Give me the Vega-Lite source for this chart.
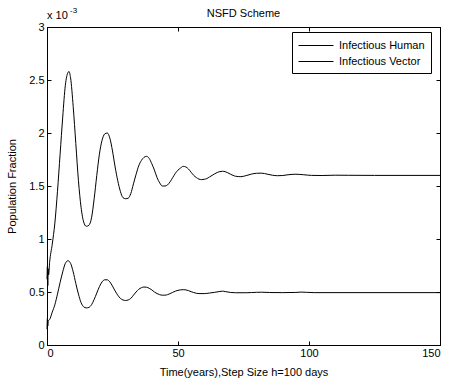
{
  "$schema": "https://vega.github.io/schema/vega-lite/v6.json",
  "autosize": "none",
  "width": 393,
  "height": 318,
  "padding": {"left": 47, "top": 27, "right": 10, "bottom": 38},
  "background": "white",
  "title": {"text": "NSFD Scheme", "fontSize": 11, "fontWeight": "normal", "font": "Liberation Sans", "color": "#000", "offset": -12, "frame": "group"},
  "config": {
    "font": "Liberation Sans",
    "view": {"stroke": "#000", "strokeWidth": 1},
    "axis": {
      "domainColor": "#000", "tickColor": "#000", "labelColor": "#000", "titleColor": "#000",
      "labelFontSize": 11, "titleFontSize": 11, "titleFontWeight": "normal",
      "grid": false, "tickSize": -4, "labelFont": "Liberation Sans", "titleFont": "Liberation Sans"
    },
    "legend": {"labelFont": "Liberation Sans"}
  },
  "datasets": {
    "curves": [
      {"t": 0, "series": "Infectious Vector", "v": 0.62},
      {"t": 0.15, "series": "Infectious Vector", "v": 0.74},
      {"t": 0.3, "series": "Infectious Vector", "v": 0.56},
      {"t": 0.45, "series": "Infectious Vector", "v": 0.72},
      {"t": 0.6, "series": "Infectious Vector", "v": 0.66},
      {"t": 1, "series": "Infectious Vector", "v": 0.78},
      {"t": 2, "series": "Infectious Vector", "v": 0.95},
      {"t": 3, "series": "Infectious Vector", "v": 1.15},
      {"t": 4, "series": "Infectious Vector", "v": 1.45},
      {"t": 5, "series": "Infectious Vector", "v": 1.8},
      {"t": 6, "series": "Infectious Vector", "v": 2.15},
      {"t": 7, "series": "Infectious Vector", "v": 2.45},
      {"t": 8, "series": "Infectious Vector", "v": 2.57},
      {"t": 8.4, "series": "Infectious Vector", "v": 2.58},
      {"t": 9, "series": "Infectious Vector", "v": 2.52},
      {"t": 10, "series": "Infectious Vector", "v": 2.25},
      {"t": 11, "series": "Infectious Vector", "v": 1.9},
      {"t": 12, "series": "Infectious Vector", "v": 1.55},
      {"t": 13, "series": "Infectious Vector", "v": 1.3},
      {"t": 14, "series": "Infectious Vector", "v": 1.16},
      {"t": 15, "series": "Infectious Vector", "v": 1.12},
      {"t": 16, "series": "Infectious Vector", "v": 1.13},
      {"t": 17, "series": "Infectious Vector", "v": 1.2},
      {"t": 18, "series": "Infectious Vector", "v": 1.38},
      {"t": 19, "series": "Infectious Vector", "v": 1.6},
      {"t": 20, "series": "Infectious Vector", "v": 1.8},
      {"t": 21, "series": "Infectious Vector", "v": 1.93},
      {"t": 22, "series": "Infectious Vector", "v": 1.99},
      {"t": 23, "series": "Infectious Vector", "v": 2.0},
      {"t": 24, "series": "Infectious Vector", "v": 1.95},
      {"t": 25, "series": "Infectious Vector", "v": 1.83},
      {"t": 26, "series": "Infectious Vector", "v": 1.68},
      {"t": 27, "series": "Infectious Vector", "v": 1.55},
      {"t": 28, "series": "Infectious Vector", "v": 1.45},
      {"t": 29, "series": "Infectious Vector", "v": 1.39},
      {"t": 30, "series": "Infectious Vector", "v": 1.38},
      {"t": 31, "series": "Infectious Vector", "v": 1.385},
      {"t": 32, "series": "Infectious Vector", "v": 1.43},
      {"t": 33, "series": "Infectious Vector", "v": 1.52},
      {"t": 34, "series": "Infectious Vector", "v": 1.61},
      {"t": 35, "series": "Infectious Vector", "v": 1.69},
      {"t": 36, "series": "Infectious Vector", "v": 1.74},
      {"t": 37, "series": "Infectious Vector", "v": 1.77},
      {"t": 38, "series": "Infectious Vector", "v": 1.78},
      {"t": 39, "series": "Infectious Vector", "v": 1.76},
      {"t": 40, "series": "Infectious Vector", "v": 1.71},
      {"t": 41, "series": "Infectious Vector", "v": 1.65},
      {"t": 42, "series": "Infectious Vector", "v": 1.58},
      {"t": 43, "series": "Infectious Vector", "v": 1.53},
      {"t": 44, "series": "Infectious Vector", "v": 1.5},
      {"t": 45, "series": "Infectious Vector", "v": 1.5},
      {"t": 46, "series": "Infectious Vector", "v": 1.51},
      {"t": 47, "series": "Infectious Vector", "v": 1.54},
      {"t": 48, "series": "Infectious Vector", "v": 1.58},
      {"t": 49, "series": "Infectious Vector", "v": 1.62},
      {"t": 50, "series": "Infectious Vector", "v": 1.65},
      {"t": 51, "series": "Infectious Vector", "v": 1.67},
      {"t": 52, "series": "Infectious Vector", "v": 1.685},
      {"t": 53, "series": "Infectious Vector", "v": 1.68},
      {"t": 54, "series": "Infectious Vector", "v": 1.66},
      {"t": 55, "series": "Infectious Vector", "v": 1.63},
      {"t": 56, "series": "Infectious Vector", "v": 1.6},
      {"t": 57, "series": "Infectious Vector", "v": 1.58},
      {"t": 58, "series": "Infectious Vector", "v": 1.565},
      {"t": 59, "series": "Infectious Vector", "v": 1.56},
      {"t": 60, "series": "Infectious Vector", "v": 1.563},
      {"t": 61, "series": "Infectious Vector", "v": 1.57},
      {"t": 62, "series": "Infectious Vector", "v": 1.585},
      {"t": 63, "series": "Infectious Vector", "v": 1.6},
      {"t": 64, "series": "Infectious Vector", "v": 1.615},
      {"t": 65, "series": "Infectious Vector", "v": 1.628},
      {"t": 66, "series": "Infectious Vector", "v": 1.636},
      {"t": 67, "series": "Infectious Vector", "v": 1.639},
      {"t": 68, "series": "Infectious Vector", "v": 1.635},
      {"t": 69, "series": "Infectious Vector", "v": 1.625},
      {"t": 70, "series": "Infectious Vector", "v": 1.612},
      {"t": 71, "series": "Infectious Vector", "v": 1.6},
      {"t": 72, "series": "Infectious Vector", "v": 1.592},
      {"t": 74, "series": "Infectious Vector", "v": 1.588},
      {"t": 76, "series": "Infectious Vector", "v": 1.598},
      {"t": 78, "series": "Infectious Vector", "v": 1.612},
      {"t": 80, "series": "Infectious Vector", "v": 1.62},
      {"t": 82, "series": "Infectious Vector", "v": 1.621},
      {"t": 84, "series": "Infectious Vector", "v": 1.612},
      {"t": 86, "series": "Infectious Vector", "v": 1.602},
      {"t": 88, "series": "Infectious Vector", "v": 1.597},
      {"t": 90, "series": "Infectious Vector", "v": 1.599},
      {"t": 92, "series": "Infectious Vector", "v": 1.606},
      {"t": 95, "series": "Infectious Vector", "v": 1.611},
      {"t": 98, "series": "Infectious Vector", "v": 1.606},
      {"t": 101, "series": "Infectious Vector", "v": 1.6},
      {"t": 105, "series": "Infectious Vector", "v": 1.599},
      {"t": 110, "series": "Infectious Vector", "v": 1.602},
      {"t": 115, "series": "Infectious Vector", "v": 1.601},
      {"t": 125, "series": "Infectious Vector", "v": 1.6},
      {"t": 150, "series": "Infectious Vector", "v": 1.6},

      {"t": 0, "series": "Infectious Human", "v": 0.15},
      {"t": 0.15, "series": "Infectious Human", "v": 0.25},
      {"t": 0.3, "series": "Infectious Human", "v": 0.18},
      {"t": 0.5, "series": "Infectious Human", "v": 0.23},
      {"t": 1, "series": "Infectious Human", "v": 0.24},
      {"t": 2, "series": "Infectious Human", "v": 0.31},
      {"t": 3, "series": "Infectious Human", "v": 0.38},
      {"t": 4, "series": "Infectious Human", "v": 0.48},
      {"t": 5, "series": "Infectious Human", "v": 0.59},
      {"t": 6, "series": "Infectious Human", "v": 0.69},
      {"t": 7, "series": "Infectious Human", "v": 0.77},
      {"t": 8, "series": "Infectious Human", "v": 0.795},
      {"t": 9, "series": "Infectious Human", "v": 0.77},
      {"t": 10, "series": "Infectious Human", "v": 0.69},
      {"t": 11, "series": "Infectious Human", "v": 0.58},
      {"t": 12, "series": "Infectious Human", "v": 0.48},
      {"t": 13, "series": "Infectious Human", "v": 0.4},
      {"t": 14, "series": "Infectious Human", "v": 0.36},
      {"t": 15, "series": "Infectious Human", "v": 0.35},
      {"t": 16, "series": "Infectious Human", "v": 0.355},
      {"t": 17, "series": "Infectious Human", "v": 0.38},
      {"t": 18, "series": "Infectious Human", "v": 0.43},
      {"t": 19, "series": "Infectious Human", "v": 0.49},
      {"t": 20, "series": "Infectious Human", "v": 0.55},
      {"t": 21, "series": "Infectious Human", "v": 0.595},
      {"t": 22, "series": "Infectious Human", "v": 0.615},
      {"t": 23, "series": "Infectious Human", "v": 0.615},
      {"t": 24, "series": "Infectious Human", "v": 0.595},
      {"t": 25, "series": "Infectious Human", "v": 0.555},
      {"t": 26, "series": "Infectious Human", "v": 0.51},
      {"t": 27, "series": "Infectious Human", "v": 0.47},
      {"t": 28, "series": "Infectious Human", "v": 0.44},
      {"t": 29, "series": "Infectious Human", "v": 0.425},
      {"t": 30, "series": "Infectious Human", "v": 0.42},
      {"t": 31, "series": "Infectious Human", "v": 0.425},
      {"t": 32, "series": "Infectious Human", "v": 0.44},
      {"t": 33, "series": "Infectious Human", "v": 0.47},
      {"t": 34, "series": "Infectious Human", "v": 0.5},
      {"t": 35, "series": "Infectious Human", "v": 0.525},
      {"t": 36, "series": "Infectious Human", "v": 0.54},
      {"t": 37, "series": "Infectious Human", "v": 0.547},
      {"t": 38, "series": "Infectious Human", "v": 0.545},
      {"t": 39, "series": "Infectious Human", "v": 0.535},
      {"t": 40, "series": "Infectious Human", "v": 0.52},
      {"t": 41, "series": "Infectious Human", "v": 0.5},
      {"t": 42, "series": "Infectious Human", "v": 0.485},
      {"t": 43, "series": "Infectious Human", "v": 0.475},
      {"t": 44, "series": "Infectious Human", "v": 0.47},
      {"t": 45, "series": "Infectious Human", "v": 0.47},
      {"t": 46, "series": "Infectious Human", "v": 0.475},
      {"t": 47, "series": "Infectious Human", "v": 0.485},
      {"t": 48, "series": "Infectious Human", "v": 0.497},
      {"t": 49, "series": "Infectious Human", "v": 0.508},
      {"t": 50, "series": "Infectious Human", "v": 0.516},
      {"t": 51, "series": "Infectious Human", "v": 0.52},
      {"t": 52, "series": "Infectious Human", "v": 0.522},
      {"t": 53, "series": "Infectious Human", "v": 0.52},
      {"t": 54, "series": "Infectious Human", "v": 0.513},
      {"t": 55, "series": "Infectious Human", "v": 0.503},
      {"t": 56, "series": "Infectious Human", "v": 0.495},
      {"t": 57, "series": "Infectious Human", "v": 0.488},
      {"t": 58, "series": "Infectious Human", "v": 0.485},
      {"t": 60, "series": "Infectious Human", "v": 0.485},
      {"t": 62, "series": "Infectious Human", "v": 0.49},
      {"t": 64, "series": "Infectious Human", "v": 0.497},
      {"t": 66, "series": "Infectious Human", "v": 0.505},
      {"t": 67, "series": "Infectious Human", "v": 0.508},
      {"t": 68, "series": "Infectious Human", "v": 0.504},
      {"t": 70, "series": "Infectious Human", "v": 0.496},
      {"t": 72, "series": "Infectious Human", "v": 0.493},
      {"t": 76, "series": "Infectious Human", "v": 0.493},
      {"t": 80, "series": "Infectious Human", "v": 0.497},
      {"t": 82, "series": "Infectious Human", "v": 0.498},
      {"t": 85, "series": "Infectious Human", "v": 0.495},
      {"t": 90, "series": "Infectious Human", "v": 0.494},
      {"t": 95, "series": "Infectious Human", "v": 0.496},
      {"t": 97, "series": "Infectious Human", "v": 0.499},
      {"t": 99, "series": "Infectious Human", "v": 0.497},
      {"t": 102, "series": "Infectious Human", "v": 0.494},
      {"t": 150, "series": "Infectious Human", "v": 0.494}
    ],
    "exponent": [{"base": "x 10", "power": "-3"}]
  },
  "resolve": {"axis": {"x": "independent", "y": "independent"}},
  "layer": [
    {
      "data": {"name": "curves"},
      "mark": {"type": "line", "strokeWidth": 1, "interpolate": "monotone"},
      "encoding": {
        "x": {"field": "t", "type": "quantitative", "scale": {"domain": [0, 150], "nice": false},
              "axis": {"orient": "bottom", "values": [0, 50, 100, 150], "format": "d", "title": "Time(years),Step Size h=100 days", "labelPadding": 6, "titlePadding": 8}},
        "y": {"field": "v", "type": "quantitative", "scale": {"domain": [0, 3], "nice": false},
              "axis": {"orient": "left", "values": [0, 0.5, 1, 1.5, 2, 2.5, 3], "format": "~g", "title": "Population Fraction", "labelPadding": 7, "titlePadding": 11}},
        "color": {"field": "series", "type": "nominal",
                  "scale": {"domain": ["Infectious Human", "Infectious Vector"], "range": ["#000", "#000"]},
                  "legend": {"title": null, "orient": "none", "legendX": 245, "legendY": 5,
                             "strokeColor": "#000", "fillColor": "#fff", "padding": 6,
                             "symbolType": "M-1,0H4", "symbolSize": 196, "symbolStrokeWidth": 1,
                             "labelOffset": 26, "labelFontSize": 11, "labelColor": "#000", "rowPadding": 3}},
        "detail": {"field": "series"}
      }
    },
    {
      "data": {"name": "curves"},
      "mark": {"type": "line", "opacity": 0},
      "encoding": {
        "x": {"field": "t", "type": "quantitative", "scale": {"domain": [0, 150], "nice": false},
              "axis": {"orient": "top", "values": [0, 50, 100, 150], "labels": false, "title": null}},
        "y": {"field": "v", "type": "quantitative", "scale": {"domain": [0, 3], "nice": false},
              "axis": {"orient": "right", "values": [0, 0.5, 1, 1.5, 2, 2.5, 3], "labels": false, "title": null}},
        "detail": {"field": "series"}
      }
    },
    {
      "data": {"name": "exponent"},
      "mark": {"type": "text", "align": "left", "baseline": "alphabetic", "fontSize": 11, "dy": -8, "color": "#000"},
      "encoding": {
        "x": {"datum": 0, "type": "quantitative", "axis": null},
        "y": {"datum": 3, "type": "quantitative", "axis": null},
        "text": {"field": "base"}
      }
    },
    {
      "data": {"name": "exponent"},
      "mark": {"type": "text", "align": "left", "baseline": "alphabetic", "fontSize": 8, "dx": 23, "dy": -14, "color": "#000"},
      "encoding": {
        "x": {"datum": 0, "type": "quantitative", "axis": null},
        "y": {"datum": 3, "type": "quantitative", "axis": null},
        "text": {"field": "power"}
      }
    }
  ]
}
